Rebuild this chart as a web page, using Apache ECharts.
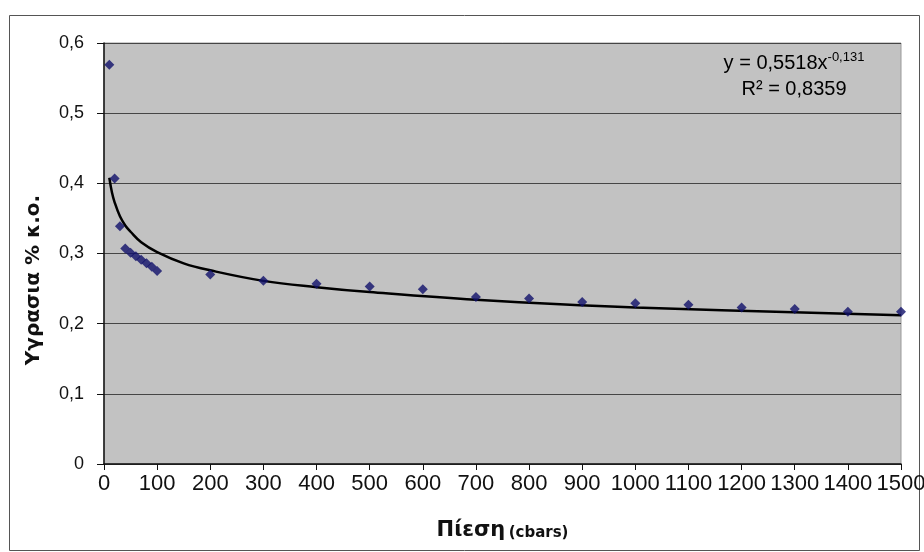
<!DOCTYPE html>
<html>
<head>
<meta charset="utf-8">
<script src="https://cdn.jsdelivr.net/npm/echarts@6/dist/echarts.min.js"></script>
<style>
  html, body { margin: 0; padding: 0; background: #fff; }
  #chart { width: 924px; height: 552px; }
</style>
</head>
<body>
<div id="chart"></div>
<script>
// measured points (pressure in cbars, moisture)
var pressure = [10, 20, 30, 40, 50, 60, 70, 80, 90, 100, 200, 300, 400, 500, 600, 700, 800, 900, 1000, 1100, 1200, 1300, 1400, 1500]
var moisture = [0.569, 0.407, 0.339, 0.307, 0.301, 0.296, 0.291, 0.286, 0.281, 0.275, 0.270, 0.261, 0.257, 0.253, 0.249, 0.238, 0.236, 0.231, 0.229, 0.227, 0.223, 0.221, 0.217, 0.217]

// power trendline
var trendX = [10, 15, 20, 30, 40, 50, 70, 100, 150, 200, 300, 400, 500, 700, 1000, 1500]
var trendY = [0.408, 0.387, 0.373, 0.353, 0.340, 0.331, 0.316, 0.302, 0.286, 0.276, 0.261, 0.252, 0.245, 0.234, 0.223, 0.212]

var yTicks = [0, 0.1, 0.2, 0.3, 0.4, 0.5, 0.6]

var chart = echarts.init(document.getElementById('chart'))

var font = 'Liberation Sans, Arial, sans-serif'
var titleFont = 'DejaVu Sans, Verdana, sans-serif'

var option = {
  animation: false,
  backgroundColor: '#fff',
  textStyle: { fontFamily: font },
  grid: {
    left: 104,
    right: 23,
    top: 43,
    bottom: 88,
    outerBoundsMode: 'none',
    containLabel: false,
    show: true,
    backgroundColor: '#c2c2c2',
    borderColor: '#9a9a9a',
    borderWidth: 1,
  },
  xAxis: {
    type: 'value',
    min: 0,
    max: 1500,
    interval: 100,
    axisLine: { lineStyle: { color: '#111', width: 1.5 } },
    axisTick: { show: true, length: 6, lineStyle: { color: '#111' } },
    splitLine: { show: false },
    axisLabel: {
      color: '#111',
      fontSize: 22,
      margin: 9,
      fontFamily: font,
      formatter: function (v) { return String(v) },
    },
    name: '{a|Πίεση} {b|(cbars)}',
    nameLocation: 'middle',
    nameGap: 51,
    nameTextStyle: {
      rich: {
        a: { fontSize: 21, fontWeight: 'bold', color: '#111', fontFamily: titleFont, verticalAlign: 'bottom', lineHeight: 26 },
        b: { fontSize: 15, fontWeight: 'bold', color: '#111', fontFamily: titleFont, verticalAlign: 'bottom', lineHeight: 19 },
      },
    },
  },
  yAxis: {
    type: 'value',
    min: yTicks[0],
    max: yTicks[yTicks.length - 1],
    interval: 0.1,
    axisLine: { show: true, lineStyle: { color: '#111', width: 1.5 } },
    axisTick: { show: true, length: 7, lineStyle: { color: '#111' } },
    splitLine: { show: true, lineStyle: { color: '#454545', width: 1.2 } },
    axisLabel: {
      color: '#111',
      fontSize: 18,
      margin: 20,
      fontFamily: font,
      formatter: function (v) {
        return String(Math.round(v * 10) / 10).replace('.', ',')
      },
    },
  },
  series: [
    {
      type: 'line',
      data: trendX.map(function (x, i) { return [x, trendY[i]] }),
      smooth: 0.4,
      showSymbol: false,
      lineStyle: { color: '#000', width: 2.5 },
      z: 2,
    },
    {
      type: 'scatter',
      data: pressure.map(function (x, i) { return [x, moisture[i]] }),
      symbol: 'diamond',
      symbolSize: 10,
      itemStyle: { color: '#10106a' },
      z: 3,
    },
  ],
  graphic: [
    {
      type: 'rect',
      left: 7,
      top: 13,
      shape: { width: 910, height: 535 },
      style: { fill: 'none', stroke: '#555', lineWidth: 1 },
      silent: true,
    },
    {
      // y axis title, placed like the original (a bit below the plot centre)
      type: 'text',
      x: 34,
      y: 280,
      rotation: Math.PI / 2,
      style: {
        text: 'Υγρασια % κ.ο.',
        align: 'center',
        verticalAlign: 'middle',
        fontSize: 20,
        fontWeight: 'bold',
        fill: '#111',
        fontFamily: titleFont,
      },
    },
    {
      type: 'text',
      x: 794,
      y: 50,
      style: {
        text: '{n|y = 0,5518x}{s|-0,131}\n{r|R² = 0,8359}',
        align: 'center',
        rich: {
          n: { fontSize: 20, color: '#111', fontFamily: font, lineHeight: 26 },
          s: { fontSize: 13, color: '#111', fontFamily: font, lineHeight: 26, padding: [0, 0, 12, 0] },
          r: { fontSize: 20, color: '#111', fontFamily: font, lineHeight: 26, align: 'center' },
        },
      },
    },
  ],
}

chart.setOption(option)
</script>
</body>
</html>
